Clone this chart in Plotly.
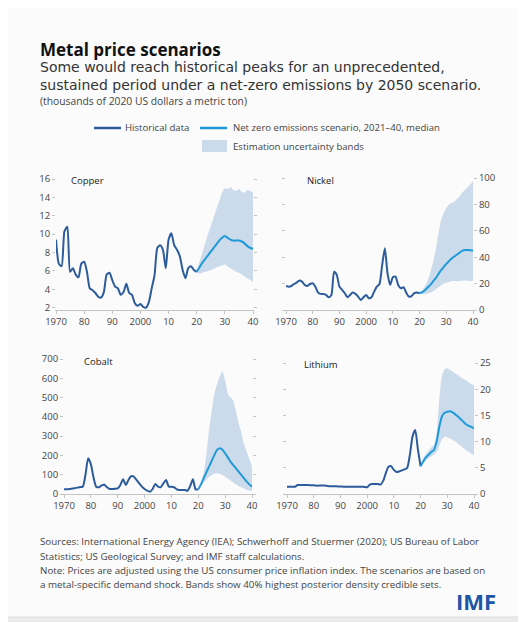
import plotly.graph_objects as go

# the page body keeps its default 8px margin, so the figure is drawn 8px in
OFF = 8
W, H = 526 - OFF, 622 - OFF

hist_years = list(range(1970, 2021))
proj_years = list(range(2020, 2041))

copper_hist = [9.4, 6.8, 6.5, 10.3, 10.8, 5.9, 6.3, 5.6, 5.3, 6.8,
               7.0, 5.9, 4.1, 3.9, 3.6, 3.2, 3.1, 3.7, 5.6, 5.8,
               5.0, 4.3, 4.1, 3.4, 3.7, 4.6, 3.6, 3.4, 2.5, 2.2,
               2.4, 2.1, 2.0, 2.6, 4.1, 5.5, 8.5, 8.8, 8.3, 6.3,
               9.4, 10.1, 8.8, 8.3, 7.6, 6.1, 5.2, 6.3, 6.5, 6.1,
               5.9]
copper_median = [5.9, 6.4, 6.9, 7.3, 7.7, 8.1, 8.5, 8.9, 9.3, 9.6, 9.8,
                 9.6, 9.4, 9.3, 9.3, 9.3, 9.2, 9.0, 8.7, 8.5, 8.4]
copper_upper = [6.0, 7.0, 8.0, 9.0, 10.0, 10.9, 11.8, 12.7, 13.6, 14.5, 15.0,
                14.9, 15.1, 14.8, 14.7, 14.9, 14.6, 14.5, 14.8, 14.7, 14.5]
copper_lower = [5.8, 5.7, 5.8, 5.9, 6.0, 6.1, 6.2, 6.4, 6.5, 6.6, 6.7,
                6.5, 6.3, 6.1, 5.9, 5.8, 5.6, 5.4, 5.2, 5.0, 4.8]

nickel_hist = [18.2, 17.7, 18.2, 19.7, 20.8, 22.3, 21.5, 19.0, 18.2, 19.7,
               20.3, 17.7, 13.2, 12.2, 12.2, 11.4, 9.6, 11.4, 29.0, 26.6,
               17.7, 15.2, 12.7, 9.6, 11.4, 13.2, 12.2, 10.1, 7.6, 9.6,
               11.4, 8.9, 9.6, 13.9, 17.7, 19.7, 34.0, 46.8, 27.8, 19.0,
               24.8, 25.3, 19.0, 16.5, 17.2, 13.2, 10.1, 10.6, 12.7, 13.2,
               12.7]
nickel_median = [12.7, 13.5, 15.0, 17.0, 19.0, 21.5, 24.0, 27.0, 30.0, 32.5, 35.0,
                 37.0, 39.0, 40.5, 42.0, 43.5, 44.8, 45.5, 45.5, 45.3, 45.0]
nickel_upper = [13.0, 15.0, 18.0, 22.0, 28.0, 36.0, 45.0, 57.0, 68.0, 73.0, 77.0,
                80.0, 81.0, 82.0, 84.0, 86.0, 89.0, 91.0, 93.0, 95.0, 98.0]
nickel_lower = [12.5, 12.0, 12.0, 12.5, 13.0, 14.0, 15.5, 17.0, 18.5, 20.0, 20.8,
                21.3, 21.8, 22.0, 22.0, 22.0, 22.2, 22.3, 22.2, 22.0, 22.0]

cobalt_hist = [24, 25, 26, 28, 30, 33, 36, 38, 100, 185,
               155, 85, 38, 35, 45, 48, 35, 26, 26, 27,
               29, 47, 76, 47, 73, 92, 90, 73, 55, 38,
               26, 17, 12, 26, 52, 38, 35, 55, 73, 38,
               38, 35, 24, 21, 21, 21, 17, 42, 76, 24,
               24]
cobalt_median = [24, 50, 81, 112, 142, 172, 203, 229, 237, 229, 211,
                 190, 168, 150, 133, 116, 99, 82, 64, 50, 38]
cobalt_upper = [24, 60, 110, 200, 330, 430, 520, 570, 610, 635, 590,
                520, 500, 485, 430, 370, 320, 260, 220, 180, 145]
cobalt_lower = [24, 40, 60, 75, 88, 98, 105, 108, 105, 98, 90,
                80, 70, 60, 50, 42, 35, 28, 22, 18, 15]

lithium_hist = [1.4, 1.4, 1.4, 1.4, 1.7, 1.7, 1.7, 1.7, 1.7, 1.65,
                1.65, 1.6, 1.6, 1.6, 1.6, 1.55, 1.5, 1.5, 1.5, 1.45,
                1.45, 1.4, 1.4, 1.4, 1.4, 1.4, 1.4, 1.4, 1.4, 1.35,
                1.3, 1.8, 1.9, 1.9, 1.9, 1.8, 2.5, 4.0, 5.2, 5.3,
                4.6, 4.2, 4.3, 4.5, 4.7, 5.0, 7.5, 11.0, 12.2, 8.5,
                5.3]
lithium_median = [5.3, 6.2, 7.0, 7.5, 8.0, 8.4, 10.0, 12.8, 14.8, 15.5, 15.7,
                  15.8, 15.6, 15.2, 14.8, 14.3, 13.8, 13.3, 13.0, 12.8, 12.5]
lithium_upper = [5.4, 6.8, 7.7, 8.3, 8.9, 9.3, 11.5, 18.0, 22.5, 23.8, 24.0,
                 23.7, 23.4, 23.0, 22.7, 22.3, 22.0, 21.7, 21.3, 21.0, 20.7]
lithium_lower = [5.2, 5.8, 6.4, 6.8, 7.2, 7.5, 8.0, 9.2, 10.4, 10.9, 10.8,
                 10.6, 10.3, 10.0, 9.6, 9.2, 8.8, 8.4, 8.0, 7.7, 7.4]

x_ticks = [1970, 1980, 1990, 2000, 2010, 2020, 2030, 2040]
x_labels = ["1970", "80", "90", "2000", "10", "20", "30", "40"]

HIST_C = "#2c5c9c"
MED_C = "#1e9ad9"
BAND_C = "#cbdbec"
FONT = "Open Sans"


def px(x):
    return (x - OFF) / W


def py(y):
    return 1 - (y - OFF) / H


# name, hist, median, upper, lower, (x0,x1,ytop,ybot) page px, yrange, dtick, side, label pos
panels = [
    ("Copper", copper_hist, copper_median, copper_upper, copper_lower,
     (56, 253, 179, 310), [1.75, 16], 2, "left", (69, 180)),
    ("Nickel", nickel_hist, nickel_median, nickel_upper, nickel_lower,
     (286, 473, 178, 310), [0, 100], 20, "right", (305, 180)),
    ("Cobalt", cobalt_hist, cobalt_median, cobalt_upper, cobalt_lower,
     (64, 252, 359, 494), [0, 700], 100, "left", (82, 361)),
    ("Lithium", lithium_hist, lithium_median, lithium_upper, lithium_lower,
     (287, 474, 363, 494), [0, 25], 5, "right", (302, 364)),
]

fig = go.Figure()
annotations = []
layout_axes = {}

for i, (name, hist, med, up, lo, box, yr, dt, side, lab) in enumerate(panels):
    n = "" if i == 0 else str(i + 1)
    xa, ya = "x" + n, "y" + n
    fig.add_trace(go.Scatter(x=proj_years, y=lo, xaxis=xa, yaxis=ya, mode="lines",
                             line=dict(width=0, shape="spline", smoothing=0.6),
                             hoverinfo="skip", showlegend=False))
    fig.add_trace(go.Scatter(x=proj_years, y=up, xaxis=xa, yaxis=ya, mode="lines",
                             line=dict(width=0, shape="spline", smoothing=0.6),
                             fill="tonexty", fillcolor=BAND_C, showlegend=False))
    fig.add_trace(go.Scatter(x=hist_years, y=hist, xaxis=xa, yaxis=ya, mode="lines",
                             line=dict(color=HIST_C, width=2, shape="spline", smoothing=0.6),
                             showlegend=False))
    fig.add_trace(go.Scatter(x=proj_years, y=med, xaxis=xa, yaxis=ya, mode="lines",
                             line=dict(color=MED_C, width=2, shape="spline", smoothing=0.6),
                             showlegend=False))
    x0, x1, yt, yb = box
    layout_axes["xaxis" + n] = dict(
        domain=[px(x0), px(x1)], anchor=ya, range=[1970, 2040], automargin=False,
        tickvals=x_ticks, ticktext=x_labels, ticks="outside", ticklen=3,
        tickcolor="#c4c4c4", showline=True, linecolor="#c4c4c4", linewidth=1,
        showgrid=False, zeroline=False, tickfont=dict(size=9.5, color="#444"),
    )
    layout_axes["yaxis" + n] = dict(
        domain=[py(yb), py(yt)], anchor=xa, range=yr, dtick=dt, side=side,
        automargin=False, ticks="outside", ticklen=3, tickcolor="#c4c4c4", showline=True,
        linecolor="rgba(0,0,0,0)", mirror="ticks", showgrid=False, zeroline=False,
        tickfont=dict(size=9.5, color="#444"),
    )
    annotations.append(dict(text=name, x=px(lab[0]), y=py(lab[1]), xref="paper", yref="paper",
                            xanchor="left", yanchor="middle", showarrow=False,
                            font=dict(size=9.5, color="#222")))


def note(text, x, y, size, color="#333", bold=False, anchor="left", family=FONT):
    annotations.append(dict(text=f"<b>{text}</b>" if bold else text, x=px(x), y=py(y),
                            xref="paper", yref="paper", xanchor=anchor, yanchor="middle",
                            align="left", showarrow=False,
                            font=dict(size=size, color=color, family=family)))


note("Metal price scenarios", 38, 49, 17, "#111", bold=True)
note("Some would reach historical peaks for an unprecedented,<br>"
     "sustained period under a net-zero emissions by 2050 scenario.", 38, 76.5, 14, "#333",
     family="DejaVu Sans")
note("(thousands of 2020 US dollars a metric ton)", 38, 101.5, 10.3, "#444")
note("Historical data", 123, 128, 9.6, "#444")
note("Net zero emissions scenario, 2021–40, median", 231, 128, 9.6, "#444")
note("Estimation uncertainty bands", 231, 146, 9.6, "#444")
note("Sources: International Energy Agency (IEA); Schwerhoff and Stuermer (2020); US Bureau of Labor",
     38, 541, 9.8, "#444")
note("Statistics; US Geological Survey; and IMF staff calculations.", 38, 556, 9.8, "#444")
note("Note: Prices are adjusted using the US consumer price inflation index. The scenarios are based on",
     38, 570, 9.8, "#444")
note("a metal-specific demand shock. Bands show 40% highest posterior density credible sets.",
     38, 584, 9.8, "#444")
note("IMF", 498, 601, 22, "#1e56a6", bold=True, anchor="right")

shapes = [
    dict(type="rect", xref="paper", yref="paper", x0=px(7), x1=px(527), y0=py(617), y1=py(7),
         fillcolor="#fbfbfb", line=dict(color="#dcdcdc", width=1), layer="below"),
    dict(type="line", xref="paper", yref="paper", x0=px(94), x1=px(121), y0=py(128), y1=py(128),
         line=dict(color=HIST_C, width=2.5)),
    dict(type="line", xref="paper", yref="paper", x0=px(200), x1=px(227), y0=py(128), y1=py(128),
         line=dict(color=MED_C, width=2.5)),
    dict(type="rect", xref="paper", yref="paper", x0=px(202), x1=px(227), y0=py(152), y1=py(140),
         fillcolor=BAND_C, line=dict(width=0)),
]

fig.update_layout(
    width=W, height=H, margin=dict(l=0, r=0, t=0, b=0, autoexpand=False),
    paper_bgcolor="#ebebeb", plot_bgcolor="rgba(0,0,0,0)",
    font=dict(family=FONT, color="#333"),
    annotations=annotations, shapes=shapes, showlegend=False,
    **layout_axes,
)

fig.write_html("out.html")
